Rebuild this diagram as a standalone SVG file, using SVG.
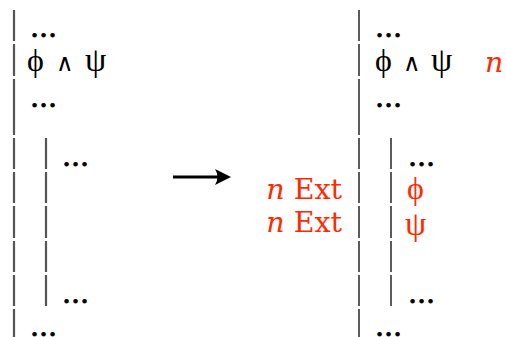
<svg xmlns="http://www.w3.org/2000/svg" width="506" height="337" viewBox="0 0 506 337">
<style>
text{font-family:"DejaVu Serif",serif;font-size:28.5px;fill:#000}
.d{stroke:#000;stroke-width:0.8}
.g{font-family:"Liberation Serif","Times New Roman",serif;font-size:32px}
.p{font-family:"Liberation Serif","Times New Roman",serif;font-size:34px}
.w{font-family:"DejaVu Sans",sans-serif;font-size:24px}
.r{fill:#ff2a00}
.i{font-style:italic}
.barL{stroke:#555;stroke-width:2.2;fill:none}
.barR{stroke:#333;stroke-width:1.6;fill:none}
</style>
<rect width="506" height="337" fill="#fff"/>
<g id="left">
  <path class="barL" d="M14 10V41M14 44V76M14 79V135M14 138V169M14 172V203M14 206V238M14 241V272M14 275V306M14 309V337"/>
  <path class="barL" d="M46 138V169M46 172V203M46 206V238M46 241V272M46 275V306"/>
  <text class="d" x="30" y="37">...</text>
  <text y="71"><tspan class="g" x="27">ϕ</tspan><tspan class="w" x="56">∧</tspan><tspan class="p" x="85">ψ</tspan></text>
  <text class="d" x="30" y="107">...</text>
  <text class="d" x="62" y="166">...</text>
  <text class="d" x="62" y="303">...</text>
  <text class="d" x="30" y="336">...</text>
</g>
<g id="rules">
  <text class="r" x="342" y="199" text-anchor="end"><tspan class="i">n</tspan> Ext</text>
  <text class="r" x="342" y="232" text-anchor="end"><tspan class="i">n</tspan> Ext</text>
</g>
<g id="right">
  <path class="barR" d="M359 10V41M359 44V76M359 79V135M359 138V169M359 172V203M359 206V238M359 241V272M359 275V306M359 309V337"/>
  <path class="barR" d="M391 138V169M391 172V203M391 206V238M391 241V272M391 275V306"/>
  <text class="d" x="375" y="37">...</text>
  <text y="71"><tspan class="g" x="375">ϕ</tspan><tspan class="w" x="403">∧</tspan><tspan class="p" x="431">ψ</tspan></text>
  <text class="r i" x="485" y="72">n</text>
  <text class="d" x="375" y="107">...</text>
  <text class="d" x="408" y="166">...</text>
  <text class="g r" x="407" y="199">ϕ</text>
  <text class="p r" x="405" y="235">ψ</text>
  <text class="d" x="408" y="303">...</text>
  <text class="d" x="375" y="336">...</text>
</g>
<g id="connectors">
  <path d="M173 177H222" stroke="#000" stroke-width="3.2"/>
  <path d="M231 177L215 169Q220 177 215 185Z" fill="#000"/>
</g>
</svg>
